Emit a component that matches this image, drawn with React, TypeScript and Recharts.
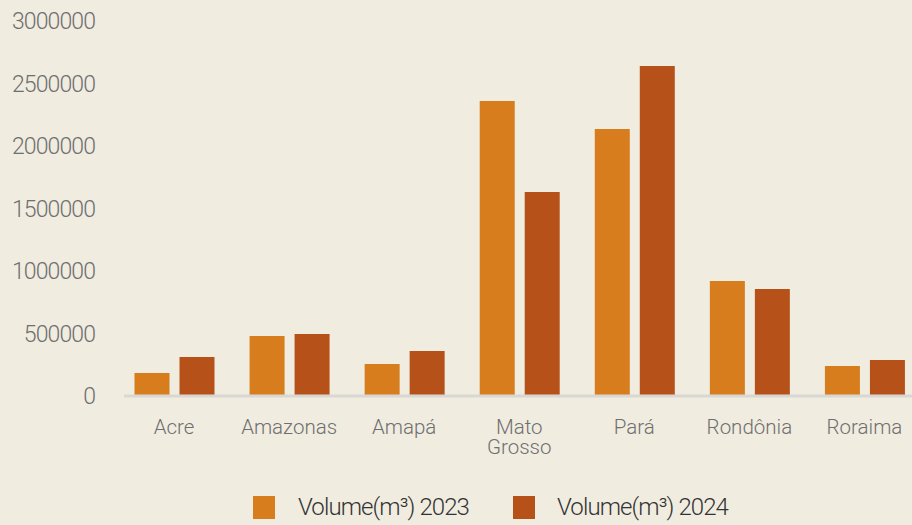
import React from 'react';
import { BarChart, Bar, XAxis, YAxis, Legend } from 'recharts';

const categories = ['Acre', 'Amazonas', 'Amapá', 'Mato Grosso', 'Pará', 'Rondônia', 'Roraima'];
const volume2023 = [184000, 480000, 256000, 2360000, 2136000, 920000, 240000];
const volume2024 = [312000, 496000, 360000, 1632000, 2640000, 856000, 288000];
const yTicks = [0, 500000, 1000000, 1500000, 2000000, 2500000, 3000000];
const seriesNames = ['Volume(m³) 2023', 'Volume(m³) 2024'];
const seriesColors = ['#d77d1d', '#b65219'];

const data = categories.map((c, i) => ({ name: c, v2023: volume2023[i], v2024: volume2024[i] }));

const FONT = 'Roboto, "DejaVu Sans", sans-serif';

const CatTick = (props: any) => {
  const { x, y, payload } = props;
  const lines = String(payload.value).split(' ');
  return (
    <text x={x} y={y} textAnchor="middle" fill="#6f6f6f" fontSize={20.5} fontFamily={FONT} fontWeight={300}>
      {lines.map((l, i) => (
        <tspan key={i} x={x} dy={i === 0 ? 38 : 20}>
          {l}
        </tspan>
      ))}
    </text>
  );
};

const ValTick = (props: any) => {
  const { x, y, payload } = props;
  return (
    <text x={x} y={y} dy={8} textAnchor="end" fill="#6f6f6f" fontSize={23} fontFamily={FONT} fontWeight={300} letterSpacing={-0.9}>
      {payload.value}
    </text>
  );
};

const LegendContent = () => (
  <div style={{ height: 40, width: 922, display: 'flex', alignItems: 'flex-start', paddingTop: 11, paddingLeft: 253, boxSizing: 'border-box' }}>
    {seriesNames.map((n, i) => (
      <div key={n} style={{ display: 'flex', alignItems: 'center', width: i === 0 ? 260 : 240 }}>
        <div style={{ width: 22, height: 23, background: seriesColors[i], marginRight: 23 - i }} />
        <span style={{ fontFamily: FONT, fontSize: 24, fontWeight: 300, color: '#333', letterSpacing: -0.9, lineHeight: '23px', whiteSpace: 'nowrap' }}>{n}</span>
      </div>
    ))}
  </div>
);

export default function App() {
  return (
    <div style={{ position: 'absolute', left: 0, top: 0, width: 912, height: 525, overflow: 'hidden', background: '#f0ece0' }}>
      <BarChart width={922} height={525} data={data} margin={{ top: 21, right: 0, bottom: 0, left: 0 }} barSize={35} barGap={10}>
        <XAxis
          dataKey="name"
          height={89}
          interval={0}
          tickLine={false}
          tickSize={0}
          tickMargin={0}
          axisLine={{ stroke: '#d9d7d3', strokeWidth: 3 }}
          padding={{ left: -7.5, right: 0 }}
          tick={<CatTick />}
        />
        <YAxis
          width={124}
          domain={[0, 3000000]}
          ticks={yTicks}
          interval={0}
          axisLine={false}
          tickLine={false}
          tickSize={0}
          tickMargin={29}
          tick={<ValTick />}
        />
        <Legend verticalAlign="bottom" wrapperStyle={{ left: 0, width: 922 }} content={<LegendContent />} />
        <Bar dataKey="v2023" name={seriesNames[0]} fill={seriesColors[0]} isAnimationActive={false} />
        <Bar dataKey="v2024" name={seriesNames[1]} fill={seriesColors[1]} isAnimationActive={false} />
      </BarChart>
    </div>
  );
}
